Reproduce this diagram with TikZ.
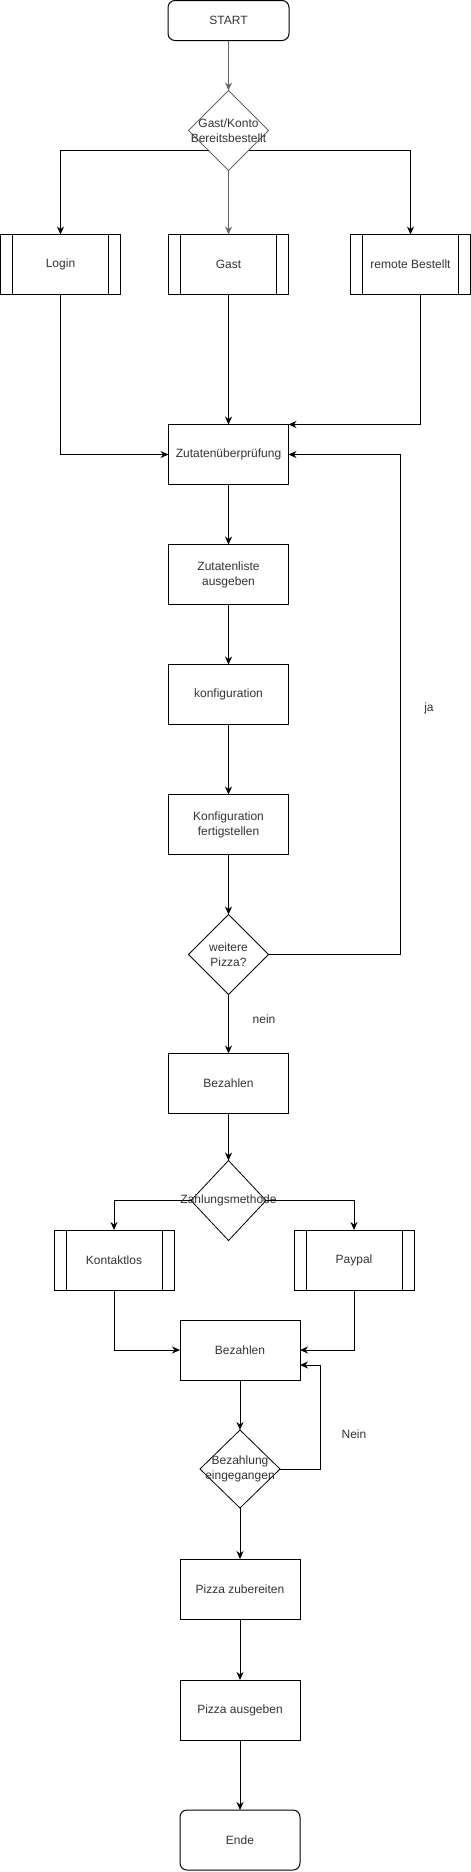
\documentclass[tikz,border=0pt]{standalone}
\usepackage{fontspec}
\setmainfont{Liberation Sans}
\usepackage{tikz}
\usetikzlibrary{arrows.meta,positioning,shapes.geometric}
\definecolor{txt}{HTML}{333333}
\definecolor{edgegray}{HTML}{666666}

\begin{document}
\begin{tikzpicture}[
    x=1pt, y=-1pt,
    every node/.style={font=\fontsize{12}{15}\selectfont, text=txt},
    proc/.style={rectangle, draw, line width=1pt, outer sep=0pt, minimum width=120pt, minimum height=60pt, align=center},
    subproc/.style={proc, path picture={
        \draw[line width=1pt] ([xshift=12pt]path picture bounding box.north west) -- ([xshift=12pt]path picture bounding box.south west);
        \draw[line width=1pt] ([xshift=-12pt]path picture bounding box.north east) -- ([xshift=-12pt]path picture bounding box.south east);}},
    terminal/.style={proc, rounded corners=7pt},
    decision/.style={diamond, draw, line width=0.8pt, outer sep=0pt, minimum width=80pt, minimum height=80pt, inner sep=0pt},
    arrow/.style={-{Stealth[length=8pt, width=7pt]}, line width=1pt}
]
    \useasboundingbox (0,0) rectangle (471,1872);

    \node[terminal, minimum width=121pt, minimum height=40pt] (start) at (228.5,20.5) {START};
    \node[decision, draw=edgegray, below=50pt of start, label={[align=center]center:Gast/Konto\\Bereitsbestellt}] (konto) {};
    \node[subproc, below=64pt of konto] (gast) {Gast};
    \node[subproc, left=48pt of gast] (login) {Login};
    \node[subproc, right=62pt of gast] (remote) {remote Bestellt};
    \node[proc, below=130pt of gast] (zcheck) {Zutatenüberprüfung};
    \node[proc, below=60pt of zcheck] (zliste) {Zutatenliste\\ausgeben};
    \node[proc, below=60pt of zliste] (konfig) {konfiguration};
    \node[proc, below=70pt of konfig] (fertig) {Konfiguration\\fertigstellen};
    \node[decision, below=60pt of fertig, label={[align=center]center:weitere\\Pizza?}] (weitere) {};
    \node[proc, below=59pt of weitere] (bezahlen) {Bezahlen};
    \node[decision, minimum width=75pt, below=47pt of bezahlen, label=center:Zahlungsmethode] (methode) {};
    \node[subproc] (kontakt) at (114,1260) {Kontaktlos};
    \node[subproc] (paypal) at (354,1260) {Paypal};
    \node[proc] (bezahlen2) at (240,1350) {Bezahlen};
    \node[decision, minimum height=78pt, below=50pt of bezahlen2, label={[align=center]center:Bezahlung\\eingegangen}] (eingang) {};
    \node[proc, below=51pt of eingang] (zubereiten) {Pizza zubereiten};
    \node[proc, below=61pt of zubereiten] (ausgeben) {Pizza ausgeben};
    \node[terminal, below=70pt of ausgeben] (ende) {Ende};

    \node (ja) at (429,708) {ja};
    \node (nein) at (264,1019) {nein};
    \node (nein2) at (354,1434) {Nein};

    \draw[arrow, edgegray] (start) -- (konto);
    \draw[arrow] (konto.south west) -| (login);
    \draw[arrow, edgegray] (konto) -- (gast);
    \draw[arrow] (konto.south east) -| (remote);
    \draw[arrow] (login) |- (zcheck);
    \draw[arrow] (gast) -- (zcheck);
    \draw[arrow] ([xshift=10pt]remote.south) |- (zcheck.north east);
    \draw[arrow] (zcheck) -- (zliste);
    \draw[arrow] (zliste) -- (konfig);
    \draw[arrow] (konfig) -- (fertig);
    \draw[arrow] (fertig) -- (weitere);
    \draw[arrow] (weitere.east) -- ++(132,0) |- (zcheck);
    \draw[arrow] (weitere) -- (bezahlen);
    \draw[arrow] (bezahlen) -- (methode);
    \draw[arrow] (methode.west) -| (kontakt);
    \draw[arrow] (methode.east) -| (paypal);
    \draw[arrow] (kontakt) |- (bezahlen2);
    \draw[arrow] (paypal) |- (bezahlen2);
    \draw[arrow] (bezahlen2) -- (eingang);
    \draw[arrow] (eingang.east) -- ++(40,0) |- ([yshift=-15pt]bezahlen2.east);
    \draw[arrow] (eingang) -- (zubereiten);
    \draw[arrow] (zubereiten) -- (ausgeben);
    \draw[arrow] (ausgeben) -- (ende);
\end{tikzpicture}
\end{document}
